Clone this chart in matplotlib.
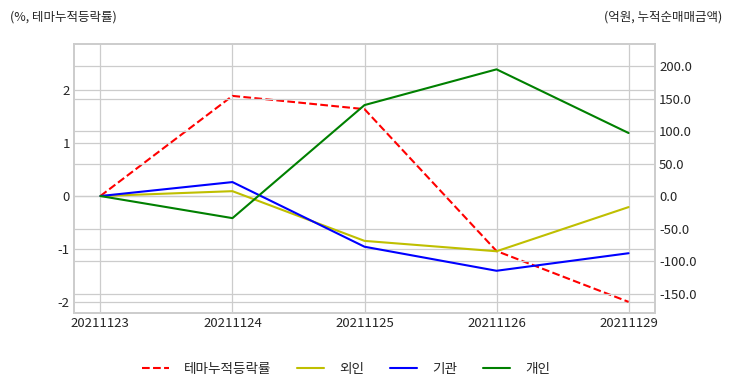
import matplotlib
matplotlib.use("Agg")
import matplotlib.pyplot as plt
import seaborn as sns

dates = ["20211123", "20211124", "20211125", "20211126", "20211129"]
theme_rate = [0.0, 1.89, 1.64, -1.04, -2.0]
foreign = [0.0, 7.5, -69.0, -85.0, -17.0]
institution = [0.0, 21.5, -78.0, -115.0, -88.0]
individual = [0.0, -34.0, 140.0, 195.0, 97.0]

sns.set_style("whitegrid")
plt.rcParams['font.family'] = ['Noto Sans CJK KR', 'DejaVu Sans']
plt.rcParams['axes.unicode_minus'] = False

fig = plt.figure(figsize=(7.32, 3.92), dpi=100)
ax = fig.add_axes([74 / 732, 1 - 313 / 392, 581 / 732, 269 / 392])
ax2 = ax.twinx()

l1, = ax.plot(dates, theme_rate, color="red", linestyle="--", linewidth=1.5, label="테마누적등락률")
l2, = ax2.plot(dates, foreign, color="y", linewidth=1.5, label="외인")
l3, = ax2.plot(dates, institution, color="b", linewidth=1.5, label="기관")
l4, = ax2.plot(dates, individual, color="g", linewidth=1.5, label="개인")

ax.set_xlim(-0.2, 4.2)
ax.set_ylim(-2.21, 2.87)
ax.set_yticks([-2, -1, 0, 1, 2])
ax2.set_ylim(-180, 234)
ax2.set_yticks([-150, -100, -50, 0, 50, 100, 150, 200])
ax2.set_yticklabels([f"{v:.1f}" for v in [-150, -100, -50, 0, 50, 100, 150, 200]])

for a in (ax, ax2):
    a.tick_params(labelsize=9.5, colors="#262626", length=0, pad=3)
    for s in a.spines.values():
        s.set_color("#cccccc")
        s.set_linewidth(1.2)
ax2.grid(True, color="#cccccc", linewidth=0.9)
ax.grid(True, color="#cccccc", linewidth=0.9)

fig.text(10 / 732, 1 - 17 / 392, "(%, 테마누적등락률)", fontsize=9, va="center", ha="left", color="#262626")
fig.text(722 / 732, 1 - 17 / 392, "(억원, 누적순매매금액)", fontsize=9, va="center", ha="right", color="#262626")

fig.legend(handles=[l1, l2, l3, l4], loc="center", bbox_to_anchor=(346 / 732, 1 - 369 / 392),
           ncol=4, frameon=False, fontsize=9.8, columnspacing=1.9, handlelength=2.0, handletextpad=1.1)

fig.savefig("out.png", dpi=100)
